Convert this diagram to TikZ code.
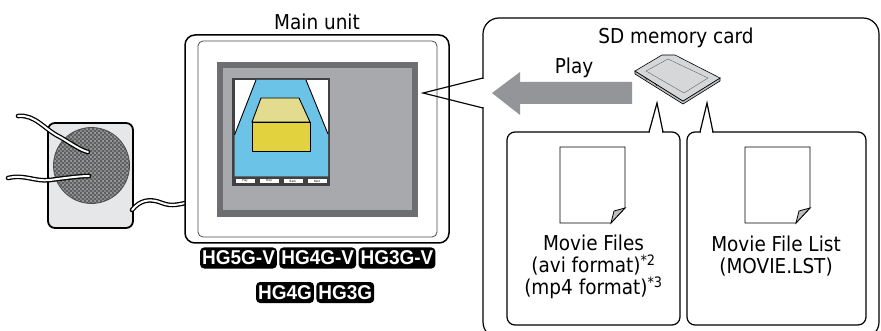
\documentclass[tikz,border=0pt]{standalone}
\usepackage{fontspec}
\setmainfont{DejaVu Sans}[FakeStretch=0.9]
\newfontfamily\badgefont{Liberation Sans}[FakeStretch=0.95]
\usetikzlibrary{positioning}
\definecolor{bezelgray}{RGB}{109,110,113}
\definecolor{screengray}{RGB}{167,169,172}
\definecolor{framegray}{RGB}{65,64,66}
\definecolor{arrowgray}{RGB}{147,149,152}
\definecolor{skyblue}{RGB}{107,196,232}
\definecolor{boxtop}{RGB}{227,220,143}
\definecolor{boxfront}{RGB}{226,211,62}
\definecolor{cardgray}{RGB}{214,215,216}
\definecolor{speakergray}{RGB}{230,231,232}
\definecolor{grillegray}{RGB}{150,151,153}
\definecolor{foldgray}{RGB}{188,190,192}

\begin{document}
\begin{tikzpicture}[x=1pt, y=-1pt,
		lbl/.style={font=\fontsize{20.5}{22}\selectfont, inner sep=0pt, align=center},
		badge/.style={fill=black, text=white, rounded corners=4pt, inner xsep=2pt, inner ysep=0pt,
			minimum height=21pt, font=\badgefont\bfseries\fontsize{20}{20}\selectfont},
		btn/.style={fill=white, draw=framegray, line width=0.4pt, minimum width=20pt, minimum height=5pt,
			inner sep=0pt, font=\fontsize{3}{3}\selectfont},
		cable/.style={double=white, double distance=2pt, line width=1.3pt, line cap=round},
		callout/.style={draw=black, line width=1.2pt, fill=white},
		docicon/.style={draw=black, line width=0.8pt, fill=white},
		node distance=2pt
	]
	\useasboundingbox (0,0) rectangle (881,331);

	% speaker
	\draw[line width=1.8pt, fill=speakergray, rounded corners=7pt] (48,123) rectangle (133,228);
	\begin{scope}
		\clip (91.5,165.5) circle (38);
		\fill[grillegray] (91.5,165.5) circle (38);
		\foreach \i in {0,...,19}
			\foreach \j in {0,...,19}
				\draw[black!70, line width=0.5pt] (53+\i*4,127+\j*4) circle (1.8);
	\end{scope}
	\draw[line width=0.8pt, black!70] (91.5,165.5) circle (38);
	\draw[cable] (18,116) .. controls (35,114) and (45,130) .. (60,137)
		.. controls (72,144) and (80,150) .. (88,152);
	\draw[cable] (8,178) .. controls (25,174) and (35,182) .. (50,180)
		.. controls (65,178) and (80,176) .. (89,176);
	\draw[cable] (132,210) .. controls (140,200) and (150,198) .. (162,203)
		.. controls (172,207) and (180,204) .. (190,202);

	% main unit
	\draw[line width=1.5pt, fill=white, rounded corners=10pt] (185,35) rectangle (449,243);
	\draw[line width=0.8pt, black!70, rounded corners=5pt] (198,41) rectangle (437,237);
	\fill[bezelgray] (217,62) rectangle (418,217);
	\fill[screengray] (223,68) rectangle (412,210);
	\fill[framegray] (232,78) rectangle (330,186);
	\fill[white] (234.5,80) rectangle (328,176.5);
	\fill[skyblue] (256,80) -- (306,80) -- (328,134) -- (328,176.5) -- (234.5,176.5) -- (234.5,135) -- cycle;
	\draw[line width=0.9pt] (256,80) -- (234.5,135) (306,80) -- (328,134);
	\draw[line width=0.9pt, fill=boxtop] (261,98) -- (299,98) -- (310,122) -- (252,122) -- cycle;
	\draw[line width=0.9pt, fill=boxfront] (252,122) rectangle (310,151);
	\node[btn] (play) at (245,181) {Play};
	\node[btn] (stop) at (269,181) {Stop};
	\node[btn] (back) at (293,181) {Back};
	\node[btn] (next) at (317,181) {Next};
	\node[lbl] (mainlbl) at (317,22) {Main unit};

	% model badges
	\node[badge] (hg5gv) at (238.5,258) {HG5G-V};
	\node[badge, right=of hg5gv] (hg4gv) {HG4G-V};
	\node[badge, right=of hg4gv] (hg3gv) {HG3G-V};
	\node[badge] (hg4g) at (285,292.5) {HG4G};
	\node[badge, right=of hg4g] (hg3g) {HG3G};

	% sd card callout
	\draw[callout, rounded corners=16pt] (483,18) rectangle (879,338);
	\fill[white] (481,79) rectangle (485,107);
	\draw[line width=1.2pt] (483,78) -- (423,93) -- (483,108);
	\node[lbl] (sdlbl) at (676,38) {SD memory card};
	\node[lbl] (playlbl) at (574,68) {Play};
	\fill[arrowgray] (632,82) -- (520,82) -- (520,72) -- (492,93) -- (520,115) -- (520,104) -- (632,104) -- cycle;

	% card
	\draw[line width=0.6pt, fill=foldgray] (635,71) -- (635,74) -- (683,104) -- (720,81) -- (720,78) -- (683,101) -- cycle;
	\draw[line width=0.6pt, fill=cardgray] (635,71) -- (662,55) -- (675,55) -- (720,78) -- (683,101) -- cycle;
	\draw[line width=0.4pt, black!60] (646,71) -- (668,59) -- (708,78) -- (684,93) -- cycle;
	\draw[line width=0.4pt] (645,77) -- (647,80) (655,83) -- (657,86);

	% file boxes
	\draw[callout, rounded corners=8pt] (507,132) rectangle (680,325);
	\draw[callout, rounded corners=8pt] (687,132) rectangle (866,325);
	\fill[white] (650,130) rectangle (662,134);
	\fill[white] (701,130) rectangle (712,134);
	\draw[line width=1.2pt] (649,132) -- (657,103) -- (663,132);
	\draw[line width=1.2pt] (700,132) -- (707,103) -- (713,132);
	\foreach \dx/\nm in {560/mov, 745/lst} {
		\draw[docicon] (\dx,147) -- (\dx+65,147) -- (\dx+65,208) -- (\dx+51,223) -- (\dx,223) -- cycle;
		\draw[line width=0.8pt, fill=foldgray] (\dx+51,223) -- (\dx+65,208) -- (\dx+54,211) -- cycle;
	}
	\node[lbl] (movlbl) at (593.5,267) {Movie Files\\(avi format)\textsuperscript{*2}\\(mp4 format)\textsuperscript{*3}};
	\node[lbl] (lstlbl) at (776,256) {Movie File List\\(MOVIE.LST)};
\end{tikzpicture}
\end{document}
